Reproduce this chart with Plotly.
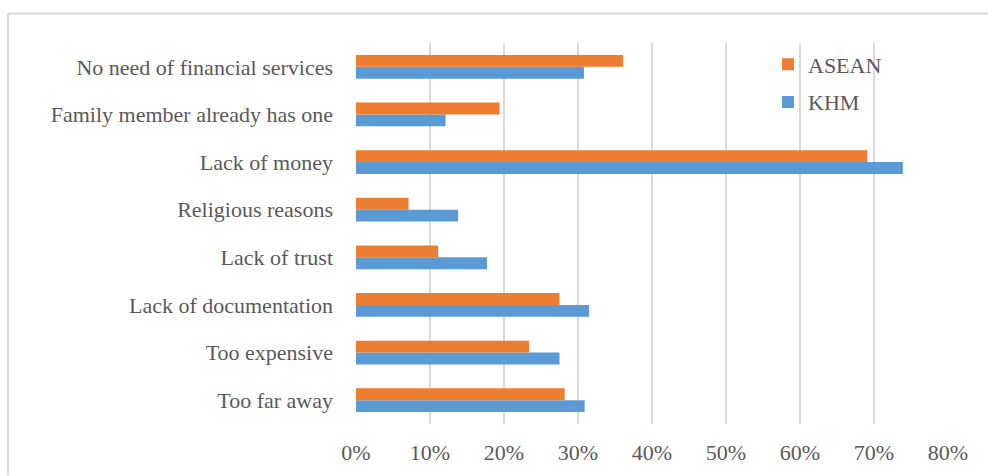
import plotly.graph_objects as go

# Reasons for not having an account, listed top to bottom as displayed
categories = [
    "No need of financial services",
    "Family member already has one",
    "Lack of money",
    "Religious reasons",
    "Lack of trust",
    "Lack of documentation",
    "Too expensive",
    "Too far away",
]
asean = [0.361, 0.194, 0.691, 0.071, 0.111, 0.275, 0.234, 0.282]
khm = [0.308, 0.121, 0.739, 0.138, 0.177, 0.315, 0.275, 0.309]
x_ticks = [0, 0.1, 0.2, 0.3, 0.4, 0.5, 0.6, 0.7, 0.8]

FONT = "Liberation Serif, Times New Roman, serif"
TEXT = "#595959"
FS = 22

fig = go.Figure()
# KHM first so that ASEAN sits above it within each category
fig.add_trace(go.Bar(y=categories, x=khm, name="KHM", orientation="h",
                     legendgroup="khm", legendrank=2,
                     marker=dict(color="#5B9BD5", line=dict(width=0))))
fig.add_trace(go.Bar(y=categories, x=asean, name="ASEAN", orientation="h",
                     legendgroup="asean", legendrank=1,
                     marker=dict(color="#ED7D31", line=dict(width=0))))

W, H = 988, 476
ml, mr, mt, mb = 356, 40, 42.5, 51.5
pw, ph = W - ml - mr, H - mt - mb


def px_x(p):
    return (p - ml) / pw


def px_y(p):
    return (H - mb - p) / ph


fig.update_layout(
    width=W, height=H,
    margin=dict(l=ml, r=mr, t=mt, b=mb, pad=0),
    paper_bgcolor="white", plot_bgcolor="white",
    barmode="group", bargap=0.5, bargroupgap=0,
    font=dict(family=FONT, size=FS, color=TEXT),
    showlegend=True,
    legend=dict(x=px_x(768), y=px_y(43), xanchor="left", yanchor="top",
                traceorder="grouped", bgcolor="rgba(0,0,0,0)",
                font=dict(family=FONT, size=FS, color=TEXT),
                itemwidth=30, tracegroupgap=6),
    xaxis=dict(range=[0, 0.8], tickvals=x_ticks, tickformat=".0%",
               showgrid=True, gridcolor="#d9d9d9", gridwidth=2,
               zeroline=False, showline=False, ticks="",
               ticklabelstandoff=13,
               tickfont=dict(family=FONT, size=FS, color=TEXT)),
    yaxis=dict(categoryorder="array", categoryarray=categories[::-1],
               showgrid=False, zeroline=False, showline=False, ticks="",
               ticklabelstandoff=22,
               tickfont=dict(family=FONT, size=FS, color=TEXT)),
    shapes=[
        # outer chart frame (top and left edges)
        dict(type="line", xref="paper", yref="paper",
             x0=px_x(8), x1=px_x(W), y0=px_y(13), y1=px_y(13),
             line=dict(color="#d9d9d9", width=2)),
        dict(type="line", xref="paper", yref="paper",
             x0=px_x(8), x1=px_x(8), y0=px_y(13), y1=px_y(H),
             line=dict(color="#d9d9d9", width=2)),
    ],
)

fig.write_html("out.html")
